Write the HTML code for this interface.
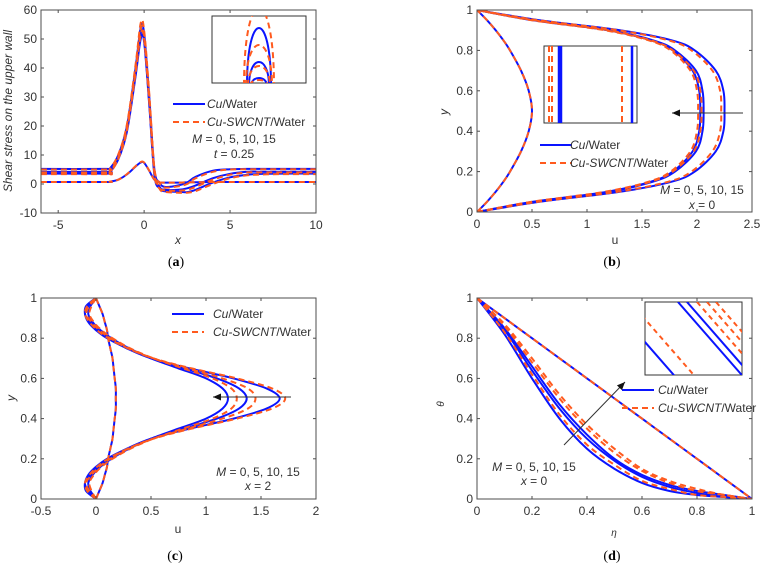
<!DOCTYPE html>
<html><head><meta charset="utf-8"><style>
body{margin:0;background:#fff}
svg{display:block;font-family:"Liberation Sans",sans-serif}
</style></head><body>
<svg id="fig" width="764" height="565" viewBox="0 0 764 565"></svg>
<script>
// ---------- data ----------
// panel a: x samples and shear stress values
const aX=[-6,-2.2,-2,-1.5,-1,-0.5,-0.2,0,0.3,0.6,0.9,1.2,2,2.5,3,4,5,6,7,8,10];
const aCu0=[0.7,0.7,0.8,1.5,3.3,6,7.4,7.3,4.5,1.5,0.6,0.5,0.5,0.6,0.6,0.7,0.7,0.7,0.7,0.7,0.7];
const aCu5=[5.2,5.2,5.3,10,20,40,54,52,30,5,0.5,-1,-0.5,0.5,2.5,4.6,5.1,5.2,5.2,5.2,5.2];
const aCu10=[4.2,4.2,4.5,9,19,38,52,50,28,4,-1,-2,-2,-1.5,-0.5,2,3.5,4.2,4.2,4.2,4.2];
const aCu15=[3.6,3.6,4,8.5,18,37,50,49,27,3,-1.5,-2.5,-2.7,-2.8,-2,0.5,2.3,3.2,3.5,3.6,3.6];
const aSw0=[0.7,0.7,0.8,1.5,3.4,6.1,7.6,7.4,4.6,1.5,0.6,0.5,0.5,0.6,0.6,0.7,0.7,0.7,0.7,0.7,0.7];
const aSw5=[5.0,5.0,5.2,10.2,20.5,41,55.5,53,31,5.5,0.3,-1.2,-0.8,0,2,4.2,5,5.1,5.1,5.1,5.1];
const aSw10=[4.0,4.0,4.3,9.2,19.5,39,53.5,51,29,4.5,-1.2,-2.2,-2.3,-2,-1,1.5,3.2,4,4,4,4];
const aSw15=[3.4,3.4,3.8,8.7,18.5,38,51.5,50,28,3.5,-1.7,-2.7,-3,-3,-2.4,0,2,3,3.3,3.4,3.4];
// panel b: y samples and u values
const bY=[0,0.05,0.1,0.15,0.2,0.3,0.4,0.5,0.6,0.7,0.8,0.85,0.9,0.95,1];
const bCu0=[0,0.09,0.17,0.24,0.3,0.4,0.47,0.5,0.47,0.4,0.3,0.24,0.17,0.09,0];
const bCu5=[0,0.5,1.18,1.58,1.78,1.96,2.02,2.03,2.02,1.96,1.78,1.58,1.18,0.5,0];
const bCu10=[0,0.52,1.2,1.6,1.8,1.99,2.05,2.06,2.05,1.99,1.8,1.6,1.2,0.52,0];
const bCu15=[0,0.56,1.3,1.77,1.98,2.17,2.24,2.25,2.24,2.17,1.98,1.77,1.3,0.56,0];
const bSw0=[0,0.09,0.17,0.24,0.3,0.4,0.47,0.5,0.47,0.4,0.3,0.24,0.17,0.09,0];
const bSw5=[0,0.49,1.16,1.56,1.76,1.94,2.0,2.01,2.0,1.94,1.76,1.56,1.16,0.49,0];
const bSw10=[0,0.51,1.19,1.58,1.78,1.97,2.03,2.04,2.03,1.97,1.78,1.58,1.19,0.51,0];
const bSw15=[0,0.55,1.28,1.74,1.95,2.14,2.21,2.22,2.21,2.14,1.95,1.74,1.28,0.55,0];
// panel c: half-profile y samples (mirrored about y=0.5)
const cY=[0,0.04,0.08,0.12,0.16,0.2,0.25,0.3,0.35,0.4,0.45,0.5];
const cCu0=[0,0.03,0.06,0.08,0.1,0.11,0.13,0.15,0.16,0.17,0.18,0.18];
const cCu5=[0,-0.05,-0.07,-0.03,0.04,0.14,0.3,0.5,0.75,1.0,1.15,1.2];
const cCu10=[0,-0.07,-0.1,-0.05,0.02,0.12,0.28,0.5,0.8,1.1,1.3,1.37];
const cCu15=[0,-0.09,-0.1,-0.07,0,0.1,0.28,0.5,0.85,1.25,1.55,1.67];
const cSw0=[0,0.03,0.06,0.08,0.1,0.11,0.13,0.15,0.16,0.17,0.18,0.18];
const cSw5=[0,-0.04,-0.06,-0.02,0.05,0.15,0.31,0.52,0.79,1.06,1.23,1.28];
const cSw10=[0,-0.06,-0.09,-0.04,0.03,0.13,0.29,0.52,0.83,1.15,1.38,1.45];
const cSw15=[0,-0.08,-0.1,-0.06,0.01,0.11,0.29,0.52,0.87,1.28,1.6,1.72];
// panel d: eta samples and theta values
const dE=[0,0.1,0.2,0.3,0.4,0.5,0.6,0.7,0.8,0.9,1];
const dLin=[1,0.9,0.8,0.7,0.6,0.5,0.4,0.3,0.2,0.1,0];
const dCu5=[1,0.82,0.6,0.4,0.25,0.15,0.08,0.04,0.02,0.01,0];
const dCu10=[1,0.84,0.64,0.45,0.3,0.19,0.11,0.06,0.03,0.01,0];
const dCu15=[1,0.85,0.66,0.47,0.32,0.2,0.12,0.07,0.04,0.02,0];
const dSw5=[1,0.83,0.62,0.42,0.27,0.17,0.09,0.05,0.02,0.01,0];
const dSw10=[1,0.86,0.68,0.5,0.35,0.23,0.14,0.08,0.04,0.02,0];
const dSw15=[1,0.87,0.7,0.52,0.37,0.25,0.15,0.09,0.05,0.02,0];

// ---------- drawing ----------
const NS="http://www.w3.org/2000/svg";
const svg=document.getElementById('fig');
const BLUE="#0a14ff", ORANGE="#ff5a1e", AX="#4d4d4d";
function mk(tag,attrs,parent){const e=document.createElementNS(NS,tag);for(const k in attrs)e.setAttribute(k,attrs[k]);(parent||svg).appendChild(e);return e;}
function txt(x,y,s,opt,parent){const t=mk('text',Object.assign({x:x,y:y,'font-size':12,fill:'#333','text-anchor':'middle'},opt||{}),parent);t.innerHTML=s;return t;}
function smooth(pts){let d='M'+pts[0][0].toFixed(1)+','+pts[0][1].toFixed(1);
 for(let i=0;i<pts.length-1;i++){const p0=pts[Math.max(0,i-1)],p1=pts[i],p2=pts[i+1],p3=pts[Math.min(pts.length-1,i+2)];
  const c1=[p1[0]+(p2[0]-p0[0])/6,p1[1]+(p2[1]-p0[1])/6],c2=[p2[0]-(p3[0]-p1[0])/6,p2[1]-(p3[1]-p1[1])/6];
  d+='C'+c1.map(v=>v.toFixed(1))+' '+c2.map(v=>v.toFixed(1))+' '+p2.map(v=>v.toFixed(1));}
 return d;}
function panel(o){
 const g=mk('g',{});
 
 
 const sx=v=>o.x0+(v-o.xmin)/(o.xmax-o.xmin)*(o.x1-o.x0);
 const sy=v=>o.y1-(v-o.ymin)/(o.ymax-o.ymin)*(o.y1-o.y0);
 const clipId='clip'+o.name;
 const cp=mk('clipPath',{id:clipId},g);mk('rect',{x:o.x0,y:o.y0,width:o.x1-o.x0,height:o.y1-o.y0},cp);
 const sg=mk('g',{'clip-path':'url(#'+clipId+')'},g);
 o.series.forEach(s=>{
   const p=mk('path',{d:smooth(s.pts.map(q=>[sx(q[0]),sy(q[1])])),fill:'none',stroke:s.dash?ORANGE:BLUE,'stroke-width':2,'stroke-dasharray':s.dash?'6,4':'none'},sg);
   
   
 });
 const box=mk('rect',{x:o.x0,y:o.y0,width:o.x1-o.x0,height:o.y1-o.y0,fill:'none',stroke:AX,'stroke-width':1},g);
 
 
 o.xt.forEach(v=>{const X=sx(v);mk('line',{x1:X,x2:X,y1:o.y1,y2:o.y1-3,stroke:AX},g);mk('line',{x1:X,x2:X,y1:o.y0,y2:o.y0+3,stroke:AX},g);
   const t=txt(X,o.y1+16,String(v),{},g);});
 o.yt.forEach(v=>{const Y=sy(v);mk('line',{x1:o.x0,x2:o.x0+3,y1:Y,y2:Y,stroke:AX},g);mk('line',{x1:o.x1,x2:o.x1-3,y1:Y,y2:Y,stroke:AX},g);
   const t=txt(o.x0-4,Y+4,String(v),{'text-anchor':'end'},g);});
 return {g,sx,sy};
}
const zip=(xs,ys)=>xs.map((v,i)=>[v,ys[i]]);
const zipR=(ys,xs)=>xs.map((v,i)=>[v,ys[i]]);
const mirror=(ys,us)=>{const a=ys.map((y,i)=>[us[i],y]);const b=ys.slice(0,-1).reverse().map((y,i)=>[us[ys.length-2-i],1-y]);return a.concat(b);};

const A=panel({name:'panel-a',x0:41,x1:316,y0:10,y1:213,xmin:-6,xmax:10,ymin:-10,ymax:60,xt:[-5,0,5,10],yt:[-10,0,10,20,30,40,50,60],
 series:[[aCu0,0],[aCu5,0],[aCu10,0],[aCu15,0],[aSw0,1],[aSw5,1],[aSw10,1],[aSw15,1]].map((s,i)=>({pts:zip(aX,s[0]),dash:s[1],name:(s[1]?'cu-swcnt-line-':'cu-line-')+i}))});
const B=panel({name:'panel-b',x0:477,x1:752,y0:10,y1:212,xmin:0,xmax:2.5,ymin:0,ymax:1,xt:[0,0.5,1,1.5,2,2.5],yt:[0,0.2,0.4,0.6,0.8,1],
 series:[[bCu0,0],[bCu5,0],[bCu10,0],[bCu15,0],[bSw0,1],[bSw5,1],[bSw10,1],[bSw15,1]].map((s,i)=>({pts:zipR(bY,s[0]),dash:s[1],name:(s[1]?'cu-swcnt-line-':'cu-line-')+i}))});
const C=panel({name:'panel-c',x0:41,x1:316,y0:298,y1:499,xmin:-0.5,xmax:2,ymin:0,ymax:1,xt:[-0.5,0,0.5,1,1.5,2],yt:[0,0.2,0.4,0.6,0.8,1],
 series:[[cCu0,0],[cCu5,0],[cCu10,0],[cCu15,0],[cSw0,1],[cSw5,1],[cSw10,1],[cSw15,1]].map((s,i)=>({pts:mirror(cY,s[0]),dash:s[1],name:(s[1]?'cu-swcnt-line-':'cu-line-')+i}))});
const D=panel({name:'panel-d',x0:477,x1:752,y0:298,y1:499,xmin:0,xmax:1,ymin:0,ymax:1,xt:[0,0.2,0.4,0.6,0.8,1],yt:[0,0.2,0.4,0.6,0.8,1],
 series:[[dLin,0],[dCu5,0],[dCu10,0],[dCu15,0],[dLin,1],[dSw5,1],[dSw10,1],[dSw15,1]].map((s,i)=>({pts:zip(dE,s[0]),dash:s[1],name:(s[1]?'cu-swcnt-line-':'cu-line-')+i}))});

function legend(x,y,tx,name){const g=mk('g',{});
 mk('line',{x1:x,x2:x+32,y1:y,y2:y,stroke:BLUE,'stroke-width':2},g);
 mk('line',{x1:x,x2:x+32,y1:y+18,y2:y+18,stroke:ORANGE,'stroke-width':2,'stroke-dasharray':'6,4'},g);
 txt(tx,y+4,'<tspan font-style="italic">Cu</tspan>/Water',{'text-anchor':'start'},g);
 txt(tx,y+22,'<tspan font-style="italic">Cu-SWCNT</tspan>/Water',{'text-anchor':'start'},g);}
legend(173,104,207,'legend-a');legend(540,145,570,'legend-b');legend(172,314,213,'legend-c');legend(622,390,658,'legend-d');
function ann(cx,y1,y2,v,name){const g=mk('g',{});
 txt(cx,y1,'<tspan font-style="italic">M</tspan> = 0, 5, 10, 15',{},g);txt(cx,y2,v,{},g);}
ann(234,143,158,'<tspan font-style="italic">t</tspan> = 0.25','annotation-a');
ann(702,194,209,'<tspan font-style="italic">x</tspan> = 0','annotation-b');
ann(258,476,490,'<tspan font-style="italic">x</tspan> = 2','annotation-c');
ann(534,471,485,'<tspan font-style="italic">x</tspan> = 0','annotation-d');
function arrow(x1,y1,x2,y2,name){const g=mk('g',{});
 mk('line',{x1,y1,x2,y2,stroke:'#333','stroke-width':1},g);
 const a=Math.atan2(y2-y1,x2-x1),L=8,W=3.5;
 const p=[[x2,y2],[x2-L*Math.cos(a)+W*Math.sin(a),y2-L*Math.sin(a)-W*Math.cos(a)],[x2-L*Math.cos(a)-W*Math.sin(a),y2-L*Math.sin(a)+W*Math.cos(a)]];
 mk('polygon',{points:p.map(q=>q.join(',')).join(' '),fill:'#111'},g);}
arrow(743,113,672,113,'arrow-b');arrow(291,397,213,397,'arrow-c');arrow(564,445,625,382,'arrow-d');

function inset(x,y,w,h,name,draw){const g=mk('g',{});
 mk('rect',{x,y,width:w,height:h,fill:'#fff',stroke:'#333','stroke-width':1},g);
 const cid='c'+name;const cp=mk('clipPath',{id:cid},g);mk('rect',{x,y,width:w,height:h},cp);
 const ig=mk('g',{'clip-path':'url(#'+cid+')'},g);draw(ig);}
// inset a: nested peak tops [half-width, top y, dashed]
inset(212,16,94,67,'inset-a',g=>{
 [[15,8,1],[12,28,0],[13,45,1],[10,62,0],[11,66,1],[8,78,0],[9,80,1]].forEach(s=>{
  const c=(s[1]-0.25*86)/0.75;
  mk('path',{d:'M'+(259-s[0])+',86 C'+(259-s[0])+','+c.toFixed(1)+' '+(259+s[0])+','+c.toFixed(1)+' '+(259+s[0])+',86',fill:'none',stroke:s[2]?ORANGE:BLUE,'stroke-width':2,'stroke-dasharray':s[2]?'6,4':'none'},g);});});
inset(544,46,93,77,'inset-b',g=>{
 [[549,1],[552,1],[559,0],[561,0],[622,1],[632,0]].forEach(s=>mk('line',{x1:s[0],x2:s[0],y1:46,y2:123,stroke:s[1]?ORANGE:BLUE,'stroke-width':s[1]?2:2.5,'stroke-dasharray':s[1]?'6,4':'none'},g));});
// inset d: parallel diagonal lines [top intercept offset, dashed]
inset(645,302,97,73,'inset-d',g=>{
 [[-35,0],[-15,1],[33,0],[42,0],[52,1],[62,1],[71,1]].forEach(s=>mk('line',{x1:645+s[0],y1:302,x2:645+s[0]+90,y2:302+103,stroke:s[1]?ORANGE:BLUE,'stroke-width':2,'stroke-dasharray':s[1]?'5,4':'none'},g));});

function lab(x,y,s,opt,name){const t=txt(x,y,s,opt||{});}
lab(12,111,'Shear stress on the upper wall',{'font-style':'italic',transform:'rotate(-90 12 111)'},'y-axis-title-a');
lab(178,244,'x',{'font-style':'italic'},'x-axis-title-a');
lab(448,112,'y',{'font-style':'italic',transform:'rotate(-90 448 112)'},'y-axis-title-b');
lab(615,244,'u',{},'x-axis-title-b');
lab(15,398,'y',{'font-style':'italic',transform:'rotate(-90 15 398)'},'y-axis-title-c');
lab(178,533,'u',{},'x-axis-title-c');
lab(444,404,'θ',{'font-style':'italic','font-size':10,transform:'rotate(-90 444 404)'},'y-axis-title-d');
lab(614,536,'η',{'font-style':'italic','font-size':10},'x-axis-title-d');
const capStyle={'font-family':'Liberation Serif, serif','font-size':14,fill:'#000'};
lab(176,266,'(<tspan font-weight="bold">a</tspan>)',capStyle,'caption-a');
lab(612,266,'(<tspan font-weight="bold">b</tspan>)',capStyle,'caption-b');
lab(175,560,'(<tspan font-weight="bold">c</tspan>)',capStyle,'caption-c');
lab(612,560,'(<tspan font-weight="bold">d</tspan>)',capStyle,'caption-d');
</script>
</body></html>
